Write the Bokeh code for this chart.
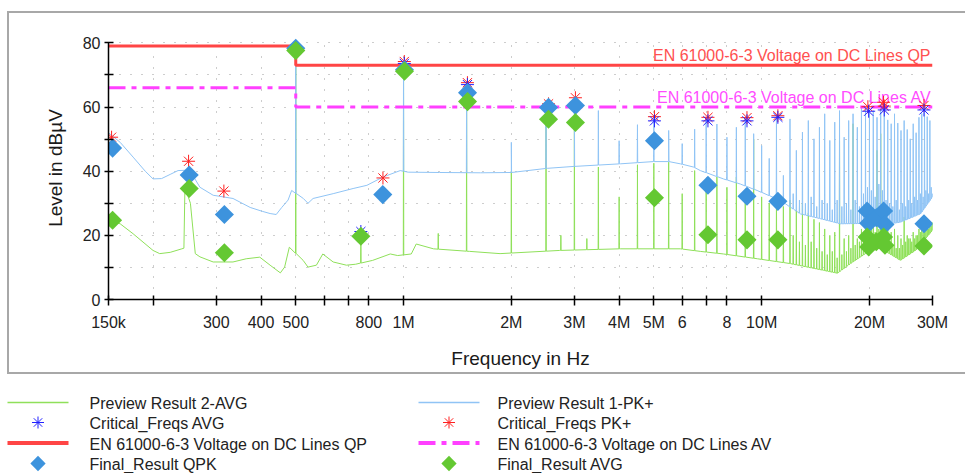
import numpy as np
from bokeh.plotting import figure
from bokeh.layouts import column
from bokeh.models import Range1d, FixedTicker, Grid, Plot
from bokeh.core.properties import value
from bokeh.embed import file_html
from bokeh.resources import INLINE

# ---------------- data (frequency in MHz, level in dBuV) ----------------
# Preview Result 1-PK+ : broadband floor
pk_base_f = [0.150, 0.1617, 0.1757, 0.190, 0.1997, 0.211, 0.223, 0.2346, 0.248, 0.257,
             0.270, 0.294, 0.334, 0.373, 0.403, 0.424, 0.441, 0.457, 0.476, 0.487,
             0.525, 0.541, 0.559, 0.636, 0.723, 0.790, 0.877, 0.979, 1.030, 1.26,
             1.64, 2.0, 2.52, 3.0, 4.03, 4.98, 5.5, 5.93, 6.45, 6.74,
             7.82, 8.72, 9.71, 11.28, 12.83, 14.59, 16.59, 18.87, 21.46, 24.41,
             27.77, 30.0]
pk_base_v = [52.0, 49.0, 44.4, 40.0, 37.6, 37.7, 39.0, 40.2, 40.3, 39.0,
             35.0, 32.5, 31.5, 28.7, 27.5, 26.8, 26.5, 28.7, 31.0, 34.0,
             31.5, 30.0, 31.5, 33.0, 34.6, 35.6, 38.2, 40.2, 39.7, 39.6,
             39.5, 39.6, 40.9, 41.5, 42.3, 43.0, 43.0, 42.3, 41.3, 40.2,
             37.6, 36.0, 34.0, 30.9, 26.7, 25.2, 23.6, 23.7, 23.1, 24.1,
             26.7, 32.0]

# Preview Result 2-AVG : broadband floor
avg_base_f = [0.150, 0.1617, 0.1757, 0.1997, 0.2085, 0.223, 0.2404, 0.2436, 0.2452, 0.2540,
              0.2621, 0.270, 0.294, 0.334, 0.3636, 0.3967, 0.424, 0.4529, 0.4655, 0.4798,
              0.5244, 0.541, 0.571, 0.595, 0.636, 0.6925, 0.735, 0.820, 0.918, 0.963,
              1.051, 1.085, 1.212, 1.53, 1.86, 2.73, 4.03, 5.93, 6.74, 7.82,
              9.73, 12.03, 14.88, 16.29, 17.7, 20.1, 21.46, 24.41, 26.9, 30.0]
avg_base_v = [24.7, 23.6, 20.5, 15.3, 14.3, 14.7, 15.8, 16.0, 35.0, 30.0,
              14.3, 13.3, 11.7, 11.7, 12.7, 13.2, 10.7, 8.3, 10.1, 16.3,
              12.2, 10.1, 10.7, 14.2, 11.7, 10.7, 11.0, 12.2, 14.2, 13.7,
              14.2, 17.3, 15.8, 15.0, 14.3, 15.3, 15.8, 15.8, 15.0, 14.2,
              12.7, 11.2, 9.1, 8.2, 11.2, 15.3, 16.0, 12.2, 15.3, 21.6]

# harmonic lines of the 500 kHz switching frequency
harm_f = [0.5, 1.0, 1.5, 2.0, 2.5, 3.0, 3.5, 4.0, 4.5, 5.0,
          5.5, 6.0, 6.5, 7.0, 7.5, 8.0, 8.5, 9.0, 9.5, 10.0,
          10.5, 11.0, 11.5, 12.0, 12.5, 13.0, 13.5, 14.0, 14.5, 15.0,
          15.5, 16.0, 16.5, 17.0, 17.5, 18.0, 18.5, 19.0, 19.5, 20.0,
          20.5, 21.0, 21.5, 22.0, 22.5, 23.0, 23.5, 24.0, 24.5, 25.0,
          25.5, 26.0, 26.5, 27.0, 27.5, 28.0, 28.5, 29.0, 29.5, 30.0]
pk_harm_v = [78.5, 74.0, 68.0, 49.0, 61.0, 63.0, 58.9, 49.5, 54.5, 57.0,
             52.7, 48.6, 53.1, 56.8, 54.7, 50.6, 53.7, 56.7, 51.7, 48.0,
             44.0, 57.0, 38.7, 56.3, 46.5, 52.2, 55.8, 50.1, 53.7, 57.9,
             49.6, 55.3, 58.9, 50.6, 55.8, 57.9, 53.7, 60.0, 60.0, 59.0,
             58.9, 56.8, 61.0, 61.0, 56.0, 54.8, 57.9, 55.0, 52.7, 55.8,
             53.0, 50.1, 54.8, 52.0, 56.8, 58.0, 61.0, 57.0, 55.8, 33.0]
avg_harm_v = [77.0, 71.0, 62.5, 40.0, 57.0, 56.0, 41.3, 32.0, 42.0, 42.5,
              42.8, 33.0, 40.2, 35.0, 38.2, 35.0, 38.2, 33.0, 50.0, 32.0,
              30.0, 33.0, 29.0, 31.0, 28.0, 30.0, 27.0, 25.0, 24.0, 22.0,
              20.0, 21.0, 49.6, 19.0, 20.0, 54.8, 19.0, 22.0, 24.0, 25.0,
              23.0, 46.5, 51.7, 26.0, 22.0, 21.0, 22.0, 20.0, 19.0, 25.7,
              20.0, 19.0, 21.0, 20.0, 22.0, 22.0, 24.0, 23.0, 24.0, 24.0]

# dense in-between lines above 12 MHz
noise_f = [12.25, 12.75, 13.25, 13.75, 14.25, 14.75, 15.25, 15.75, 16.25, 16.75,
           17.25, 17.75, 18.25, 18.75, 19.25, 19.75, 20.25, 20.75, 21.25, 21.75,
           22.25, 22.75, 23.25, 23.75, 24.25, 24.75, 25.25, 25.75, 26.25, 26.75,
           27.25, 27.75, 28.25, 28.75, 29.25, 29.75]
pk_noise_v = [33, 31, 30, 32, 29, 31, 30, 28, 31, 29,
              30, 28, 31, 29, 33, 35, 34, 32, 36, 34,
              31, 30, 29, 31, 28, 30, 29, 31, 30, 32,
              31, 33, 32, 34, 33, 35]
avg_noise_v = [20, 18, 17, 18, 16, 15, 14, 15, 13, 14,
               15, 16, 17, 18, 20, 21, 22, 21, 22, 21,
               19, 18, 17, 16, 16, 17, 18, 19, 18, 19,
               20, 21, 21, 22, 22, 23]

# small extra lines in the AVG preview
avg_extra_f = [0.76, 1.25, 2.75, 3.25]
avg_extra_v = [20.5, 20.6, 20.0, 19.0]

# Final results
qpk_f = [0.154, 0.252, 0.316, 0.500, 0.875, 1.006, 1.509, 2.54, 3.02, 5.02,
         7.08, 9.1, 11.1, 19.7, 19.9, 20.9, 21.9, 22.1, 28.4]
qpk_v = [47.2, 38.8, 26.5, 78.3, 32.7, 71.6, 64.5, 59.9, 60.5, 49.5,
         35.6, 32.2, 30.6, 27.6, 23.8, 25.5, 27.6, 23.4, 23.6]
favg_f = [0.154, 0.252, 0.316, 0.500, 0.760, 1.006, 1.509, 2.54, 3.02, 5.02,
          7.08, 9.1, 11.1, 19.7, 19.9, 20.9, 21.9, 22.1, 28.4]
favg_v = [24.7, 34.6, 14.6, 77.6, 19.7, 71.2, 61.7, 56.2, 55.2, 31.7,
          20.2, 18.6, 18.6, 19.5, 16.4, 18.0, 19.5, 16.9, 16.7]

# Critical frequencies
crit_pk_f = [0.153, 0.251, 0.315, 0.500, 0.876, 1.005, 1.508, 2.54, 3.02, 5.02,
             7.08, 9.1, 11.1, 19.8, 21.9, 22.0, 28.4]
crit_pk_v = [50.6, 43.1, 33.8, 78.0, 37.9, 74.2, 67.6, 61.0, 62.9, 57.0,
             56.8, 56.7, 57.3, 60.1, 61.5, 60.3, 60.5]
crit_avg_f = [0.760, 1.005, 1.508, 5.02, 7.08, 9.1, 11.1, 19.9, 22.0, 28.4]
crit_avg_v = [21.2, 73.6, 67.0, 55.7, 55.7, 55.7, 56.8, 58.7, 59.1, 59.1]

# Limits EN 61000-6-3, DC lines
lim_f = [0.15, 0.5, 0.5, 30.0]
lim_qp = [79, 79, 73, 73]
lim_av = [66, 66, 60, 60]

x_ticks = [0.15, 0.2, 0.3, 0.4, 0.5, 0.6, 0.7, 0.8, 1, 2, 3, 4, 5, 6, 7, 8, 10, 20, 30]
x_tick_labels = ["150k", "", "300", "400", "500", "", "", "800", "1M", "2M", "3M", "4M",
                 "5M", "6", "", "8", "10M", "20M", "30M"]
y_ticks = [0, 10, 20, 30, 40, 50, 60, 70, 80]
y_tick_labels = ["0", "", "20", "", "40", "", "60", "", "80"]

legend_labels = ["Preview Result 2-AVG", "Preview Result 1-PK+",
                 "Critical_Freqs AVG", "Critical_Freqs PK+",
                 "EN 61000-6-3 Voltage on DC Lines QP", "EN 61000-6-3 Voltage on DC Lines AV",
                 "Final_Result QPK", "Final_Result AVG"]

# ---------------- styles ----------------
FONT = "Liberation Sans"
C_AVG_PRE = "#8fe05a"
C_PK_PRE = "#90c4f5"
C_QP = "#ff4545"
C_AV = "#ff40ff"
C_CPK = "#ff2020"
C_CAV = "#2222ff"
C_FQ = "#3d93dd"
C_FA = "#64c832"
AV_DASH = "17 6 5 6"
FRAME = "#a8a8a8"
HAS_ALIGN = "frame_align" in Plot.properties()

legend_kind = ["line", "line", "asterisk", "asterisk", "line", "line", "diamond", "diamond"]
legend_color = [C_AVG_PRE, C_PK_PRE, C_CAV, C_CPK, C_QP, C_AV, C_FQ, C_FA]
legend_width = [1.5, 1.5, 1, 1, 4, 4, 0, 0]
legend_dash = ["solid", "solid", "solid", "solid", "solid", AV_DASH, "solid", "solid"]
# legend layout (pixels inside the legend strip)
KEY_X = [7, 418]
KEY_W = 61
LABEL_X = [89, 497]
ROW_Y = [27, 47, 67.5, 88]


def build_trace(bf, bv, sf, sv):
    lbf = np.log10(bf)
    xs, ys = list(bf), list(bv)
    for f, v in zip(sf, sv):
        b = float(np.interp(np.log10(f), lbf, bv))
        xs += [f * 0.9985, f, f * 1.0015]
        ys += [b, v, b]
    order = np.argsort(np.array(xs), kind="stable")
    return np.array(xs)[order], np.array(ys)[order]


pk_x, pk_y = build_trace(pk_base_f, pk_base_v, harm_f + noise_f, pk_harm_v + pk_noise_v)
av_x, av_y = build_trace(avg_base_f, avg_base_v, harm_f + noise_f + avg_extra_f,
                         avg_harm_v + avg_noise_v + avg_extra_v)

# ---------------- main chart ----------------
grad = "linear-gradient({0}, {0})".format(FRAME)
p = figure(width=965, height=375, x_axis_type="log",
           x_range=Range1d(0.15, 30), y_range=Range1d(0, 82),
           output_backend="svg", toolbar_location=None,
           min_border_left=108, min_border_right=33,
           min_border_top=36, min_border_bottom=76,
           styles={"background-color": "white",
                   "background-image": ", ".join([grad, grad, grad]),
                   "background-size": "2px 363px, 970px 2px, 970px 2px",
                   "background-position": "7px 11px, 7px 11px, 7px 372px",
                   "background-repeat": "no-repeat"})
if HAS_ALIGN:
    p.frame_align = False
p.outline_line_color = None
p.background_fill_color = "white"
p.border_fill_alpha = 0

xt = FixedTicker(ticks=x_ticks)
yt = FixedTicker(ticks=y_ticks)
p.xaxis.ticker = xt
p.yaxis.ticker = yt
p.xgrid.ticker = xt
p.ygrid.ticker = yt
p.xaxis.major_label_overrides = {t: l for t, l in zip(x_ticks, x_tick_labels)}
p.yaxis.major_label_overrides = {t: l for t, l in zip(y_ticks, y_tick_labels)}
p.yaxis.bounds = (0, 80)

for ax in (p.xaxis, p.yaxis):
    ax.axis_line_color = "black"
    ax.axis_line_width = 1.5
    ax.major_tick_line_color = "black"
    ax.major_tick_line_width = 1.5
    ax.minor_tick_line_color = None
    ax.major_label_text_font = FONT
    ax.major_label_text_font_size = "16px"
    ax.major_label_text_color = "#222222"
    ax.axis_label_text_font = FONT
    ax.axis_label_text_font_size = "19px"
    ax.axis_label_text_font_style = "normal"
    ax.axis_label_text_color = "#1a1a1a"

p.xaxis.major_tick_in = 4
p.xaxis.major_tick_out = 6
p.xaxis.major_label_standoff = 8
p.xaxis.axis_label = "Frequency in Hz"
p.xaxis.axis_label_standoff = 14
p.yaxis.major_tick_in = 5
p.yaxis.major_tick_out = 4
p.yaxis.major_label_standoff = 4
p.yaxis.axis_label = "Level in dBµV"
p.yaxis.axis_label_standoff = 14

for g in (p.xgrid, p.ygrid):
    g.grid_line_color = "#9a9a9a"
    g.grid_line_dash = "1 10"
    g.grid_line_width = 1
if "cross_bounds" in Grid.properties():
    p.xgrid.cross_bounds = (0, 80)

p.line(av_x, av_y, line_color=C_AVG_PRE, line_width=1)
p.line(pk_x, pk_y, line_color=C_PK_PRE, line_width=1)
p.line(lim_f, lim_qp, line_color=C_QP, line_width=3)
p.line(lim_f, lim_av, line_color=C_AV, line_width=3, line_dash=AV_DASH)

p.text(x=[30], y=[76.0], text=["EN 61000-6-3 Voltage on DC Lines QP"], x_offset=-2,
       text_align="right", text_baseline="alphabetic", text_color="#ff5050",
       text_font=value(FONT), text_font_size="16px")
p.text(x=[30], y=[63.0], text=["EN 61000-6-3 Voltage on DC Lines AV"], x_offset=-1,
       text_align="right", text_baseline="alphabetic", text_color="#ff4cff",
       text_font=value(FONT), text_font_size="16px")

p.scatter(crit_pk_f, crit_pk_v, marker="asterisk", size=13, line_color=C_CPK, line_width=1)
p.scatter(crit_avg_f, crit_avg_v, marker="asterisk", size=13, line_color=C_CAV, line_width=1)
p.scatter(qpk_f, qpk_v, marker="square", angle=np.pi / 4, size=13.5,
          fill_color=C_FQ, line_color=None)
p.scatter(favg_f, favg_v, marker="square", angle=np.pi / 4, size=13.5,
          fill_color=C_FA, line_color=None)

# ---------------- legend strip (pixel coordinates, y downwards) ----------------
q = figure(width=965, height=98, x_range=Range1d(0, 965), y_range=Range1d(98, 0),
           output_backend="svg", toolbar_location=None, min_border=0)
if HAS_ALIGN:
    q.frame_align = False
q.axis.visible = False
q.grid.visible = False
q.outline_line_color = None
q.background_fill_color = "white"
q.border_fill_color = "white"

for i, lab in enumerate(legend_labels):
    row, col = divmod(i, 2)
    x0, cy = KEY_X[col], ROW_Y[row]
    kind, colr = legend_kind[i], legend_color[i]
    if kind == "line":
        q.line([x0, x0 + KEY_W], [cy, cy], line_color=colr, line_width=legend_width[i],
               line_dash=legend_dash[i])
    elif kind == "asterisk":
        q.scatter([x0 + KEY_W / 2], [cy], marker="asterisk", size=12,
                  line_color=colr, line_width=1)
    else:
        q.scatter([x0 + KEY_W / 2], [cy], marker="square", angle=np.pi / 4, size=10.8,
                  fill_color=colr, line_color=None)
    q.text([LABEL_X[col]], [cy + 1], text=[lab], text_baseline="middle", text_align="left",
           text_color="#222222", text_font=value(FONT), text_font_size="16px")

layout = column(p, q, spacing=0)
open("out.html", "w").write(file_html(layout, INLINE))
